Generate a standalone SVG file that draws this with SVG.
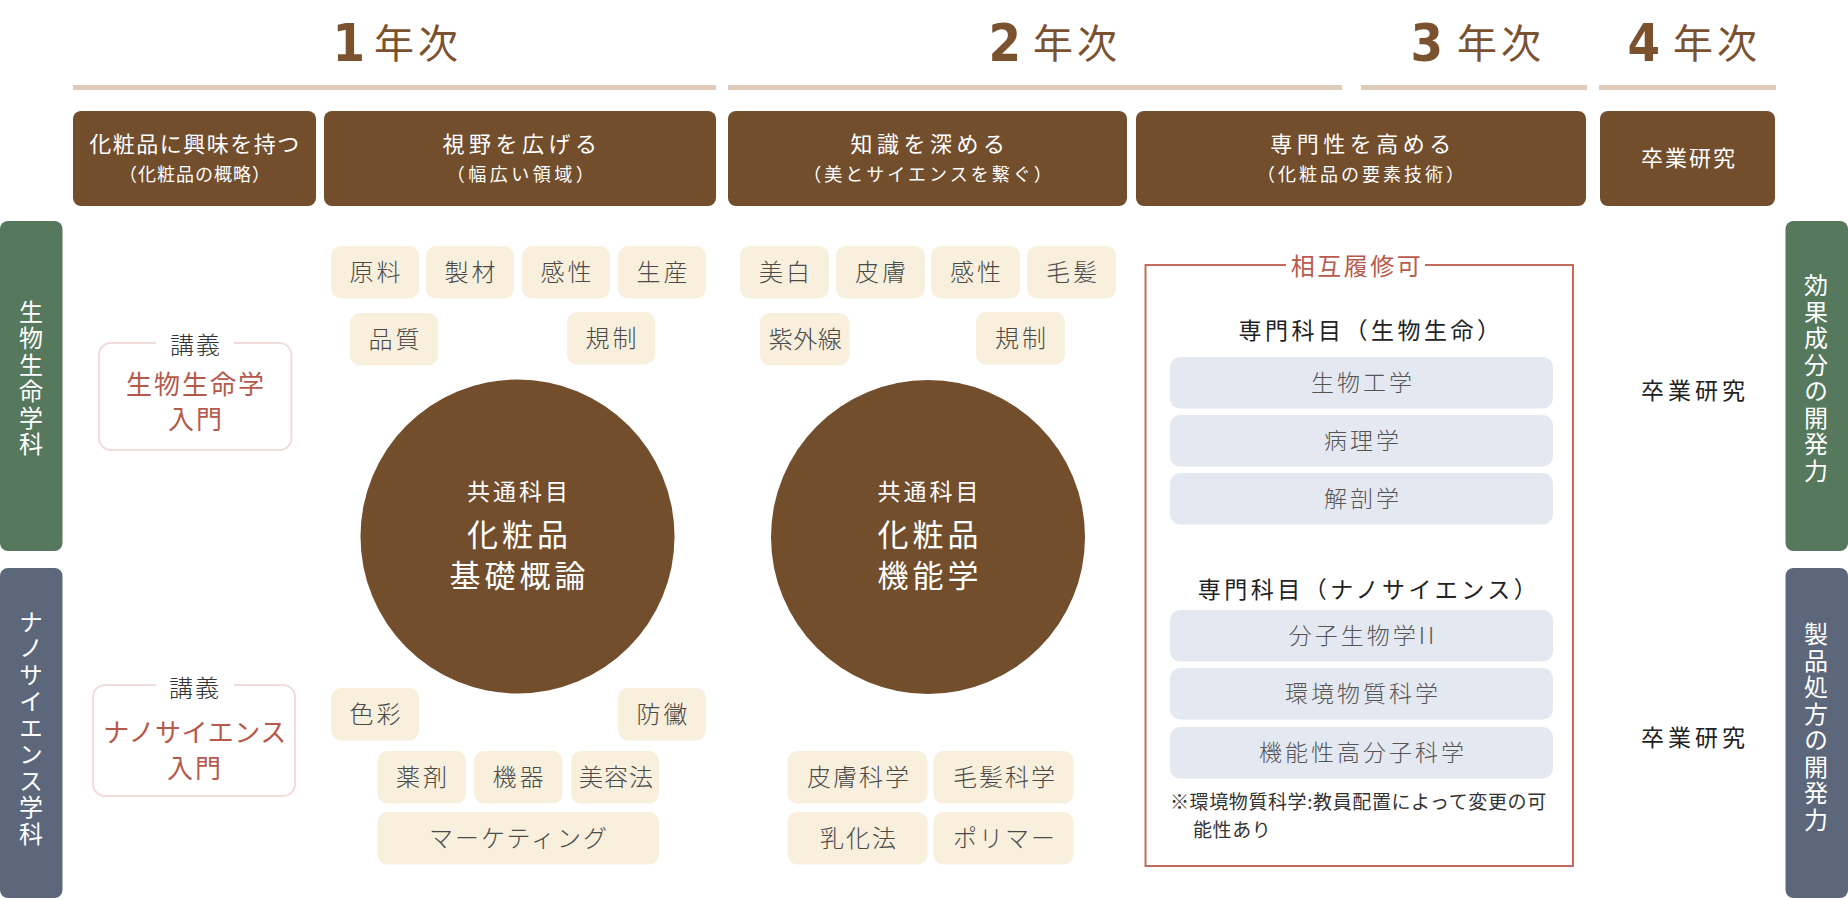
<svg xmlns="http://www.w3.org/2000/svg" width="1848" height="900" viewBox="0 0 1848 900">
<style>
text{font-family:"Noto Sans CJK JP","Noto Sans",sans-serif}
.num{font-family:"DejaVu Sans Condensed","DejaVu Sans",sans-serif;font-weight:700;font-size:52px;fill:#7A5230;text-anchor:end}
.yr{font-size:40px;fill:#7A5230;letter-spacing:4px}
.yline{stroke:#DECBB9;stroke-width:5}
.hbox{fill:#724E2D}
.ht{font-size:22px;fill:#fff;text-anchor:middle;letter-spacing:4.5px}
.hs{font-size:18px;fill:#fff;text-anchor:middle;letter-spacing:3px}
.tag{fill:#F8EFDD}
.tt{font-size:24px;fill:#4A4A4A;font-weight:300;text-anchor:middle;letter-spacing:3px}
.circ{fill:#724E2D}
.c1{font-size:23px;fill:#fff;text-anchor:middle;letter-spacing:3px}
.c2{font-size:31px;fill:#fff;text-anchor:middle;letter-spacing:4px}
.vt{font-size:24px;fill:#fff;text-anchor:middle;writing-mode:vertical-rl;letter-spacing:2.5px}
.lec{fill:#fff;stroke:#F1DCDC;stroke-width:2}
.lt{font-size:24px;fill:#333;text-anchor:middle;font-weight:300;letter-spacing:2px}
.red{font-size:26px;fill:#B5594A;text-anchor:middle;letter-spacing:2px}
.item{fill:#E4E8F1}
.it{font-size:23px;fill:#555;font-weight:300;text-anchor:middle;letter-spacing:3px}
.hd{font-size:23px;fill:#222;text-anchor:middle;letter-spacing:3.5px}
.note{font-size:19px;fill:#333;letter-spacing:0.6px}
.grad{font-size:23px;fill:#222;text-anchor:middle;letter-spacing:4px}
</style>

<g id="years">
  <text class="num" x="365" y="61">1</text><text class="yr" x="374" y="58">年次</text>
  <text class="num" x="1021" y="61">2</text><text class="yr" x="1033" y="58">年次</text>
  <text class="num" x="1443" y="61">3</text><text class="yr" x="1457" y="58">年次</text>
  <text class="num" x="1660" y="61">4</text><text class="yr" x="1673" y="58">年次</text>
  <line class="yline" x1="73" y1="87.5" x2="716" y2="87.5"/>
  <line class="yline" x1="728" y1="87.5" x2="1342" y2="87.5"/>
  <line class="yline" x1="1361" y1="87.5" x2="1587" y2="87.5"/>
  <line class="yline" x1="1599" y1="87.5" x2="1776" y2="87.5"/>
</g>

<g id="header-a"><rect class="hbox" x="73" y="111" width="243" height="95" rx="8"/>
  <text class="ht" x="195" y="152" style="letter-spacing:1.5px">化粧品に興味を持つ</text>
  <text class="hs" x="195" y="180.5" style="letter-spacing:1px">（化粧品の概略）</text></g>
<g id="header-b"><rect class="hbox" x="324" y="111" width="392" height="95" rx="8"/>
  <text class="ht" x="522" y="152">視野を広げる</text>
  <text class="hs" x="522" y="180.5" style="letter-spacing:3.5px">（幅広い領域）</text></g>
<g id="header-c"><rect class="hbox" x="728" y="111" width="399" height="95" rx="8"/>
  <text class="ht" x="930" y="152">知識を深める</text>
  <text class="hs" x="929" y="180.5">（美とサイエンスを繋ぐ）</text></g>
<g id="header-d"><rect class="hbox" x="1136" y="111" width="450" height="95" rx="8"/>
  <text class="ht" x="1363" y="152">専門性を高める</text>
  <text class="hs" x="1362" y="180.5">（化粧品の要素技術）</text></g>
<g id="header-e"><rect class="hbox" x="1600" y="111" width="175" height="95" rx="8"/>
  <text class="ht" x="1689" y="166" style="letter-spacing:2px">卒業研究</text></g>

<g id="dept-bio"><rect x="0" y="221" width="62.5" height="330" rx="8" fill="#56795D"/>
  <text class="vt" x="31" y="379">生物生命学科</text></g>
<g id="dept-nano"><rect x="0" y="568" width="62.5" height="330" rx="8" fill="#5C677B"/>
  <text class="vt" x="31" y="729">ナノサイエンス学科</text></g>
<g id="skill-effect"><rect x="1785.5" y="221" width="62.5" height="330" rx="8" fill="#56795D"/>
  <text class="vt" x="1816" y="379">効果成分の開発力</text></g>
<g id="skill-product"><rect x="1785.5" y="568" width="62.5" height="330" rx="8" fill="#5C677B"/>
  <text class="vt" x="1816" y="728">製品処方の開発力</text></g>

<g id="lecture-bio"><rect class="lec" x="99" y="343" width="192.5" height="107" rx="12"/>
  <rect x="156" y="330" width="78" height="26" fill="#fff"/>
  <text class="lt" x="196" y="354">講義</text>
  <text class="red" x="196" y="393.5">生物生命学</text>
  <text class="red" x="196" y="428.5">入門</text></g>
<g id="lecture-nano"><rect class="lec" x="93" y="685" width="202" height="111" rx="12"/>
  <rect x="156" y="672" width="78" height="26" fill="#fff"/>
  <text class="lt" x="195" y="696.5">講義</text>
  <text class="red" x="195" y="741.5" style="letter-spacing:0.5px">ナノサイエンス</text>
  <text class="red" x="195" y="777.5">入門</text></g>

<g id="tags-1">
  <g id="t-genryo"><rect class="tag" x="331" y="246" width="88" height="52.5" rx="10"/><text class="tt" x="376.5" y="281">原料</text></g>
  <g id="t-seizai"><rect class="tag" x="426" y="246" width="88" height="52.5" rx="10"/><text class="tt" x="471.5" y="281">製材</text></g>
  <g id="t-kansei1"><rect class="tag" x="522" y="246" width="88" height="52.5" rx="10"/><text class="tt" x="567.5" y="281">感性</text></g>
  <g id="t-seisan"><rect class="tag" x="618" y="246" width="88" height="52.5" rx="10"/><text class="tt" x="663.5" y="281">生産</text></g>
  <g id="t-hinshitsu"><rect class="tag" x="350" y="313" width="88" height="52.5" rx="10"/><text class="tt" x="395.5" y="348">品質</text></g>
  <g id="t-kisei1"><rect class="tag" x="567" y="312" width="88" height="52.5" rx="10"/><text class="tt" x="612.5" y="347">規制</text></g>
  <g id="t-shikisai"><rect class="tag" x="331" y="688" width="88" height="52.5" rx="10"/><text class="tt" x="376.5" y="723">色彩</text></g>
  <g id="t-boubai"><rect class="tag" x="618" y="688" width="88" height="52.5" rx="10"/><text class="tt" x="663.5" y="723">防黴</text></g>
  <g id="t-yakuzai"><rect class="tag" x="377.5" y="751" width="88.5" height="52.5" rx="10"/><text class="tt" x="423" y="786">薬剤</text></g>
  <g id="t-kiki"><rect class="tag" x="474" y="751" width="88.5" height="52.5" rx="10"/><text class="tt" x="519.5" y="786">機器</text></g>
  <g id="t-biyouhou"><rect class="tag" x="571" y="751" width="88" height="52.5" rx="10"/><text class="tt" x="616.5" y="786" style="letter-spacing:1px">美容法</text></g>
  <g id="t-marketing"><rect class="tag" x="377.5" y="812" width="281.5" height="52.5" rx="10"/><text class="tt" x="519" y="847" style="letter-spacing:2px">マーケティング</text></g>
</g>

<g id="core-1"><circle class="circ" cx="517.5" cy="536.5" r="157"/>
  <text class="c1" x="519" y="499.5">共通科目</text>
  <text class="c2" x="519.5" y="546">化粧品</text>
  <text class="c2" x="519.5" y="587">基礎概論</text></g>

<g id="tags-2">
  <g id="t-bihaku"><rect class="tag" x="740" y="246" width="89" height="52.5" rx="10"/><text class="tt" x="786" y="281">美白</text></g>
  <g id="t-hifu"><rect class="tag" x="836" y="246" width="89" height="52.5" rx="10"/><text class="tt" x="882" y="281">皮膚</text></g>
  <g id="t-kansei2"><rect class="tag" x="931" y="246" width="89" height="52.5" rx="10"/><text class="tt" x="977" y="281">感性</text></g>
  <g id="t-mouhatsu"><rect class="tag" x="1027" y="246" width="89" height="52.5" rx="10"/><text class="tt" x="1073" y="281">毛髪</text></g>
  <g id="t-shigaisen"><rect class="tag" x="760" y="313" width="89.5" height="52.5" rx="10"/><text class="tt" x="805.5" y="348" style="letter-spacing:0.5px">紫外線</text></g>
  <g id="t-kisei2"><rect class="tag" x="976" y="312" width="89" height="52.5" rx="10"/><text class="tt" x="1022" y="347">規制</text></g>
  <g id="t-hifukagaku"><rect class="tag" x="787.5" y="751" width="140" height="52.5" rx="10"/><text class="tt" x="859" y="786" style="letter-spacing:2px">皮膚科学</text></g>
  <g id="t-mouhatsukagaku"><rect class="tag" x="933.5" y="751" width="140" height="52.5" rx="10"/><text class="tt" x="1005" y="786" style="letter-spacing:2px">毛髪科学</text></g>
  <g id="t-nyuka"><rect class="tag" x="787.5" y="812" width="140" height="52.5" rx="10"/><text class="tt" x="859" y="847" style="letter-spacing:2px">乳化法</text></g>
  <g id="t-polymer"><rect class="tag" x="933.5" y="812" width="140" height="52.5" rx="10"/><text class="tt" x="1005" y="847" style="letter-spacing:2px">ポリマー</text></g>
</g>

<g id="core-2"><circle class="circ" cx="928" cy="537" r="157"/>
  <text class="c1" x="929.5" y="499.5">共通科目</text>
  <text class="c2" x="930" y="546">化粧品</text>
  <text class="c2" x="930" y="587">機能学</text></g>

<g id="specialty">
  <rect x="1145.5" y="265" width="427.5" height="601" fill="none" stroke="#C26A5B" stroke-width="2"/>
  <rect x="1286" y="252" width="139" height="28" fill="#fff"/>
  <text x="1357" y="275" style="font-size:24px;fill:#B85A4C;text-anchor:middle;letter-spacing:2.5px">相互履修可</text>
  <text class="hd" x="1371" y="338.5">専門科目（生物生命）</text>
  <g id="s-seibutsukougaku"><rect class="item" x="1170" y="357" width="383" height="51.5" rx="10"/><text class="it" x="1363" y="391">生物工学</text></g>
  <g id="s-byouri"><rect class="item" x="1170" y="415" width="383" height="51.5" rx="10"/><text class="it" x="1363" y="449">病理学</text></g>
  <g id="s-kaibou"><rect class="item" x="1170" y="473" width="383" height="51.5" rx="10"/><text class="it" x="1363" y="507">解剖学</text></g>
  <text class="hd" x="1369" y="597.5">専門科目（ナノサイエンス）</text>
  <g id="s-bunshi"><rect class="item" x="1170" y="610" width="383" height="51.5" rx="10"/><text class="it" x="1363" y="644">分子生物学II</text></g>
  <g id="s-kankyou"><rect class="item" x="1170" y="668" width="383" height="51.5" rx="10"/><text class="it" x="1363" y="702">環境物質科学</text></g>
  <g id="s-kinousei"><rect class="item" x="1170" y="727" width="383" height="51.5" rx="10"/><text class="it" x="1363" y="761">機能性高分子科学</text></g>
  <text class="note" x="1170" y="808.5">※環境物質科学:教員配置によって変更の可</text>
  <text class="note" x="1193" y="837">能性あり</text>
</g>

<g id="graduation">
  <text class="grad" x="1695" y="398.5">卒業研究</text>
  <text class="grad" x="1695" y="745.5">卒業研究</text>
</g>
</svg>
